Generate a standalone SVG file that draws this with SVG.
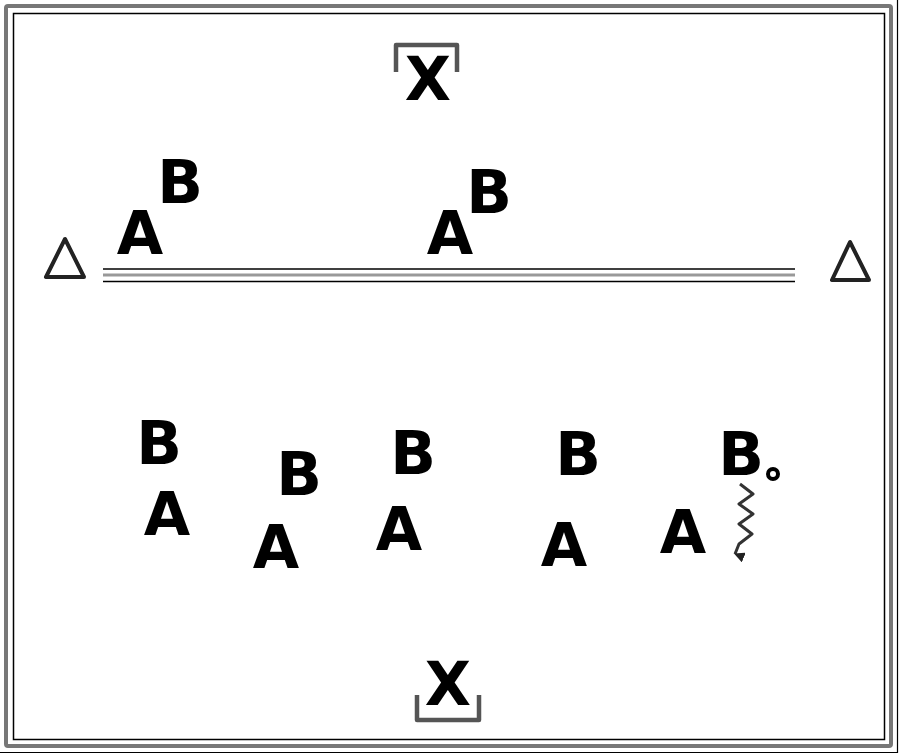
<svg xmlns="http://www.w3.org/2000/svg" width="900" height="755" viewBox="0 0 900 755">
<style>
.lt{font-family:"DejaVu Sans",sans-serif;font-weight:bold;font-size:60px;text-anchor:middle;fill:#000}
.cone{fill:none;stroke:#222;stroke-width:4;stroke-linejoin:round}
.goal{fill:none;stroke:#555;stroke-width:4.5;stroke-linejoin:round}
</style>
<defs>
<marker id="ah" viewBox="0 0 10 10" refX="5" refY="9" markerWidth="3.5" markerHeight="3.5" orient="auto-start-reverse" markerUnits="strokeWidth">
<path d="M0,0 L10,0 L5,10 Z" fill="#222"/>
</marker>
</defs>
<rect width="900" height="755" fill="#fff"/>
<g id="frame">
<path d="M897.5,0 V752.5 H0" fill="none" stroke="#000" stroke-width="1.2"/>
<rect x="6" y="6" width="885" height="740" rx="2" fill="none" stroke="#777" stroke-width="4"/>
<rect x="13.5" y="13.5" width="871" height="726" fill="none" stroke="#000" stroke-width="1.5"/>
</g>
<g id="goal-top">
<path class="goal" d="M396,72 V45 H457 V72"/>
<text class="lt" x="428" y="100">X</text>
</g>
<g id="goal-bottom">
<path class="goal" d="M417,695 V720 H479 V695"/>
<text class="lt" x="448" y="705">X</text>
</g>
<g id="cone-left"><path class="cone" d="M65,239 L46,277 L84,277 Z"/></g>
<g id="cone-right"><path class="cone" d="M850,242 L832,280 L869,280 Z"/></g>
<g id="midline">
<line x1="103" y1="269" x2="795" y2="269" stroke="#000" stroke-width="1.5"/>
<line x1="103" y1="275" x2="795" y2="275" stroke="#999" stroke-width="3"/>
<line x1="103" y1="281.5" x2="795" y2="281.5" stroke="#000" stroke-width="1.5"/>
</g>
<g id="top-left-pair"><text class="lt" x="180" y="203">B</text><text class="lt" x="140" y="254">A</text></g>
<g id="top-mid-pair"><text class="lt" x="489" y="213">B</text><text class="lt" x="450" y="254">A</text></g>
<g id="pair1"><text class="lt" x="159" y="464">B</text><text class="lt" x="167" y="535">A</text></g>
<g id="pair2"><text class="lt" x="299" y="495">B</text><text class="lt" x="276" y="568">A</text></g>
<g id="pair3"><text class="lt" x="413" y="474">B</text><text class="lt" x="399" y="550">A</text></g>
<g id="pair4"><text class="lt" x="578" y="475">B</text><text class="lt" x="564" y="566">A</text></g>
<g id="pair5"><text class="lt" x="741" y="475">B</text><text class="lt" x="683" y="553">A</text></g>
<g id="ball"><circle cx="773" cy="474" r="5" fill="#fff" stroke="#000" stroke-width="4"/></g>
<g id="connectors">
<path d="M740,484 L753,494 L739,504 L753,514 L739,524 L752,534 L739,544 L735,554" fill="none" stroke="#333" stroke-width="3" stroke-linejoin="round" marker-end="url(#ah)"/>
</g>
</svg>
